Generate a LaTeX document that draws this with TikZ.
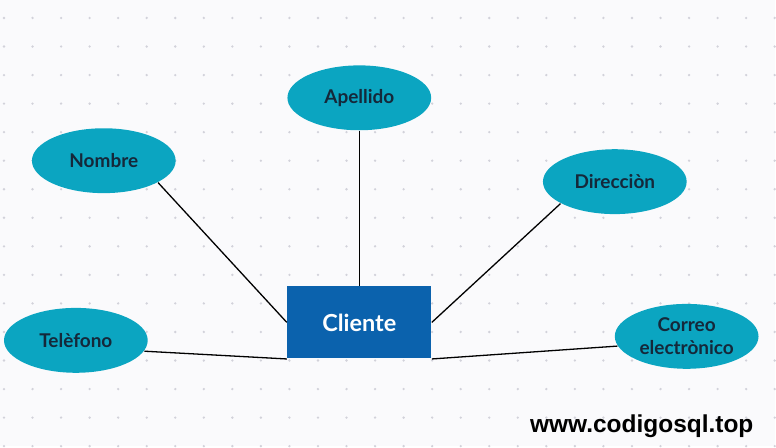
\documentclass[tikz,border=0pt]{standalone}
\usepackage{fontspec}
\setmainfont{Lato}
\newfontfamily\wmfont{Liberation Sans}
\usetikzlibrary{shapes.geometric}

\definecolor{attrcyan}{HTML}{0BA5C1}
\definecolor{entblue}{HTML}{0B62AD}
\definecolor{labelink}{HTML}{15283A}
\definecolor{griddot}{HTML}{D2D2DA}
\definecolor{paper}{HTML}{FAFAFC}

\begin{document}
\begin{tikzpicture}[
	x = 1pt, y = -1pt, % pixel-like units, y pointing down
	line width = 1.3pt, % line style
	E/.style={rectangle, fill=entblue, text=white, minimum width=144pt, minimum height=72pt, font=\fontsize{23.5}{28}\selectfont\bfseries},  % entity
	A/.style={ellipse, fill=attrcyan, text=labelink, minimum width=144pt, minimum height=65pt, inner sep=0pt, align=center, font=\fontsize{19}{23}\selectfont\bfseries},  % attribute
	]

	% Background and dot grid
	\path[fill=paper] (0,0) rectangle (776,447);
	\foreach \i in {0,...,27}
		\foreach \j in {0,...,15}
			\fill[griddot] (4+28.6*\i, 18+28.6*\j) circle (1.3pt);

	% Nodes
	\node[E] (cliente) at (360,323) {Cliente};
	\node[A] (apellido) at (360,98)  {Apellido};
	\node[A] (nombre)   at (104,161) {Nombre};
	\node[A] (direccion) at (616,182) {Direcciòn};
	\node[A] (telefono) at (76,341)  {Telèfono};
	\node[A] (correo)   at (688,337) {Correo\\electrònico};

	% Paths connecting nodes
	\draw (apellido) -- (cliente.north);
	\draw (nombre.-22) -- (cliente.west);
	\draw (direccion.202) -- (cliente.east);
	\draw (telefono.-9) -- (cliente.south west);
	\draw (correo.188) -- (cliente.south east);

	% Watermark
	\node[font=\wmfont\fontsize{24.5}{28}\selectfont\bfseries] (web) at (643,427) {www.codigosql.top};

\end{tikzpicture}
\end{document}
